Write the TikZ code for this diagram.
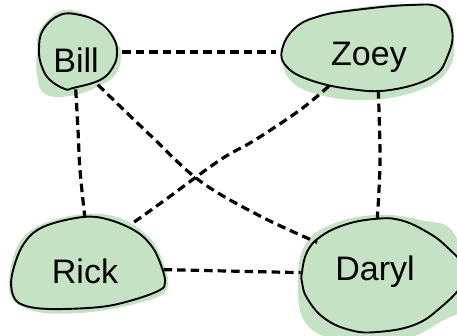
\documentclass[tikz,border=0pt]{standalone}
\usepackage{fontspec}
\setmainfont{Liberation Sans}
\usetikzlibrary{shapes.geometric}
\definecolor{blobgreen}{RGB}{197,227,196}
\tikzset{
  shapebox/.style={ellipse, inner sep=0pt, outer sep=0pt},
  blobfill/.style={fill=blobgreen, draw=none},
  blobline/.style={draw=black, line width=1.9pt, line join=round},
  conn/.style={draw=black, line width=3.2pt, dash pattern=on 8.5pt off 5pt},
  label/.style={anchor=base, inner sep=0pt, font=\fontsize{34}{34}\selectfont}
}
\begin{document}
\begin{tikzpicture}[x=1pt, y=-1pt]
\useasboundingbox (0,0) rectangle (457,335);
\clip (0,0) rectangle (457,335);

% fills
\fill[blobfill] plot[smooth cycle, tension=0.7] coordinates {(40,30) (60,11) (85,14) (100,25) (115,40) (121,55) (115,75) (95,88) (70,96) (45,94) (37,75) (37,50)};
\fill[blobfill] plot[smooth cycle, tension=0.7] coordinates {(283,55) (292,30) (330,13) (400,4) (445,10) (454,40) (448,70) (420,90) (370,100) (320,95) (290,80)};
\fill[blobfill] plot[smooth cycle, tension=0.6] coordinates {(9,280) (18,245) (40,225) (83,214) (120,218) (150,238) (163,262) (168,285) (155,298) (100,311) (45,313) (15,302)};
\fill[blobfill] plot[smooth cycle, tension=0.7] coordinates {(298,280) (305,245) (330,225) (375,215) (420,220) (455,235) (465,300) (440,322) (400,340) (340,340) (305,322)};

% outlines
\draw[blobline] plot[smooth cycle, tension=0.7] coordinates {(39,50) (43,30) (60,15) (80,15) (100,23) (113,37) (117,52) (113,67) (100,80) (73,88) (65,89) (50,80) (42,67)};
\draw[blobline] plot[smooth cycle, tension=0.7] coordinates {(282,50) (295,28) (320,16) (355,10) (410,5) (440,8) (452,30) (448,55) (432,77) (390,90) (350,89) (310,80) (287,67)};
\draw[blobline] plot[smooth cycle, tension=0.6] coordinates {(12,275) (23,245) (43,227) (83,217) (110,220) (137,232) (153,248) (162,268) (165,282) (160,290) (133,300) (100,307) (50,309) (23,305) (13,295)};
\draw[blobline] plot[smooth cycle, tension=0.7] coordinates {(302,272) (307,252) (320,237) (344,225) (374,219) (400,220) (427,232) (447,247) (465,268) (462,285) (440,308) (414,325) (377,332) (350,330) (324,318) (307,298) (302,282)};

% shape nodes (invisible, used for connectors)
\node[shapebox, minimum width=78pt, minimum height=75pt] (bill) at (79,52) {};
\node[shapebox, minimum width=170pt, minimum height=85pt] (zoey) at (367,48) {};
\node[shapebox, minimum width=153pt, minimum height=93pt] (rick) at (88,263) {};
\node[shapebox, minimum width=170pt, minimum height=125pt] (daryl) at (385,280) {};

% labels
\node[label] (billtext) at (76,72) {Bill};
\node[label] (zoeytext) at (369,65) {Zoey};
\node[label] (ricktext) at (85,283) {Rick};
\node[label] (daryltext) at (375,280) {Daryl};

% connectors
\draw[conn] ([xshift=4pt]bill.east) -- ([xshift=-6pt]zoey.west |- bill.east);
\draw[conn] plot[smooth, tension=0.6] coordinates {(bill.-95) (78,130) (80,170) (rick.94)};
\draw[conn] plot[smooth, tension=0.6] coordinates {(bill.-60) (150,135) (200,181) (260,216) (daryl.151)};
\draw[conn] plot[smooth, tension=0.6] coordinates {(zoey.-135) (300,110) (255,140) (220,160) (165,200) (rick.42)};
\draw[conn] plot[smooth, tension=0.6] coordinates {(zoey.-75) (380,160) (daryl.97)};
\draw[conn] (rick.-5) -- (daryl.175);
\end{tikzpicture}
\end{document}
